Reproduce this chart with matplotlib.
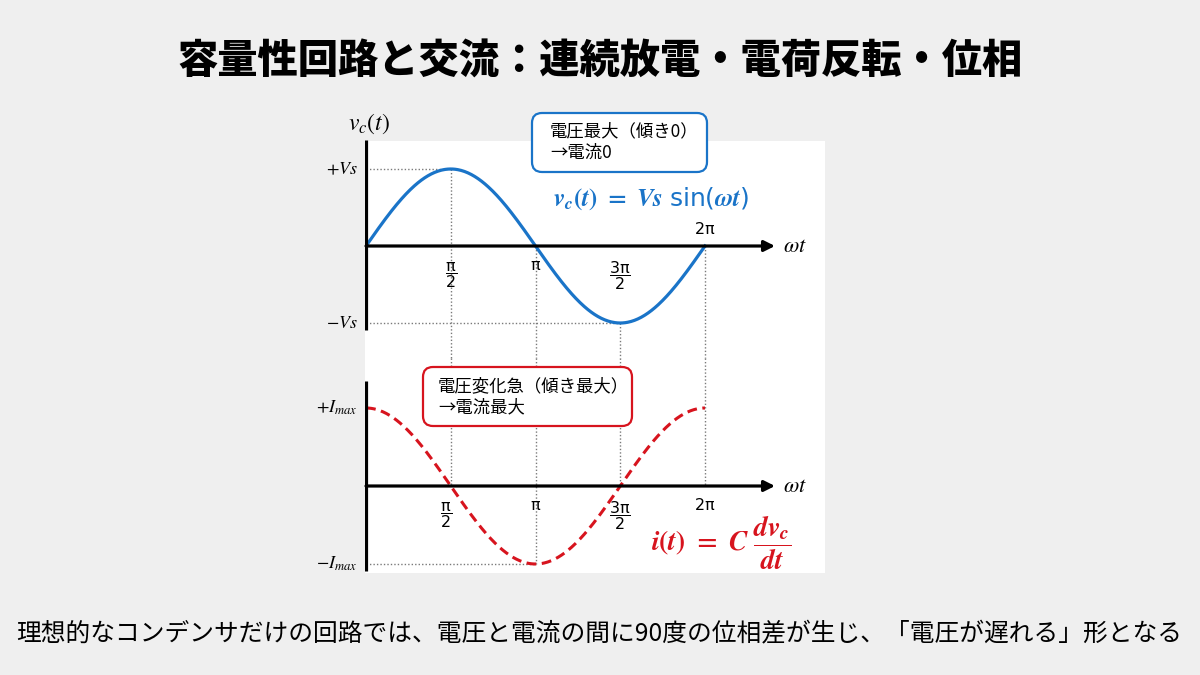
import numpy as np
import matplotlib
matplotlib.use("Agg")
import matplotlib.pyplot as plt
from matplotlib.patches import Rectangle, FancyBboxPatch

plt.rcParams['font.family'] = ['Noto Sans CJK JP', 'DejaVu Sans']
plt.rcParams['mathtext.fontset'] = 'custom'
plt.rcParams['mathtext.it'] = 'STIXGeneral:italic:bold'
plt.rcParams['mathtext.rm'] = 'STIXGeneral:bold'
plt.rcParams['mathtext.sf'] = 'DejaVu Sans'

# --- data ---
phase = np.linspace(0, 2 * np.pi, 400)
v_amp = 1.0          # Vs
i_amp = 1.0          # Imax
tick_pos = [np.pi / 2, np.pi, 3 * np.pi / 2, 2 * np.pi]
tick_labels = [r'$\dfrac{\mathrm{\pi}}{2}$', r'$\mathrm{\pi}$',
               r'$\dfrac{3\mathrm{\pi}}{2}$', r'$2\mathrm{\pi}$']
v_labels = [r'$+Vs$', r'$-Vs$']
i_labels = [r'$+I_{max}$', r'$-I_{max}$']

title = '容量性回路と交流：連続放電・電荷反転・位相'
caption = '理想的なコンデンサだけの回路では、電圧と電流の間に90度の位相差が生じ、「電圧が遅れる」形となる'
note_v = '電圧最大（傾き0）\n→電流0'
note_i = '電圧変化急（傾き最大）\n→電流最大'

BLUE = '#1a74c8'
RED = '#d7141e'
BG = '#efefef'
DOT = '#7a7a7a'

W, H = 1200, 675
fig = plt.figure(figsize=(W / 100, H / 100), dpi=100, facecolor=BG)


def fpos(x0, y0, x1, y1):
    # pixel box (top-left origin) -> figure fraction rect
    return [x0 / W, (H - y1) / H, (x1 - x0) / W, (y1 - y0) / H]


def inch(x, y):
    return x / 100, (H - y) / 100


# white panel (behind the axes)
fig.patches.append(Rectangle((365 / W, (H - 573) / H), 460 / W, 432 / H,
                             transform=fig.transFigure, facecolor='white',
                             edgecolor='none', zorder=-1))

s = (705 - 366) / (2 * np.pi)     # px per radian
xlim = ((365 - 366) / s, (825 - 366) / s)
x_end = (775 - 366) / s

ax1 = fig.add_axes(fpos(365, 140, 825, 358))
ax2 = fig.add_axes(fpos(365, 358, 825, 573))
ax1.set_ylim(-(358 - 246) / 77, (246 - 140) / 77)
ax2.set_ylim(-(573 - 486) / 78, (486 - 358) / 78)

for ax in (ax1, ax2):
    ax.set_xlim(*xlim)
    ax.axis('off')
    ax.patch.set_alpha(0)

dot = dict(color=DOT, lw=1.0, ls=(0, (1, 1.5)), zorder=1, clip_on=False)
arrow = dict(arrowstyle='-|>', color='black', lw=2.3, mutation_scale=16,
             shrinkA=0, shrinkB=0)
tick_kw = dict(textcoords='offset points', ha='center', va='center',
               fontsize=11.5, math_fontfamily='dejavusans')

# --- top panel: voltage ---
y0, y1 = ax1.get_ylim()
ax1.plot([0, tick_pos[0]], [v_amp, v_amp], **dot)
ax1.plot([0, tick_pos[2]], [-v_amp, -v_amp], **dot)
ax1.plot([tick_pos[0]] * 2, [v_amp, y0], **dot)
ax1.plot([tick_pos[1]] * 2, [0, y0], **dot)
ax1.plot([tick_pos[2]] * 2, [-v_amp, y0], **dot)
ax1.plot([tick_pos[3]] * 2, [0, y0], **dot)

ax1.plot(phase, v_amp * np.sin(phase), color=BLUE, lw=2.3, zorder=3)
ax1.plot([0, 0], [y1, -(330 - 246) / 77], color='black', lw=2.3, zorder=4,
         solid_capstyle='butt')
ax1.annotate('', xy=(x_end, 0), xytext=(0, 0), arrowprops=arrow, zorder=4)
ax1.annotate(r'$\omega t$', xy=(x_end, 0), xytext=(6, 0), textcoords='offset points',
             ha='left', va='center', fontsize=16, math_fontfamily='stix')

for lab, y in zip(v_labels, [v_amp, -v_amp]):
    ax1.annotate(lab, xy=(0, y), xytext=(-6, 0), textcoords='offset points',
                 ha='right', va='center', fontsize=13, math_fontfamily='stix')

for k, (p, lab) in enumerate(zip(tick_pos, tick_labels)):
    if k == 3:
        off = 12
    elif k == 1:
        off = -14
    else:
        off = -21
    ax1.annotate(lab, xy=(p, 0), xytext=(0, off), **tick_kw)

fig.text(369 / W, (H - 124) / H, r'$v_c(t)$', ha='center', va='center',
         fontsize=17, math_fontfamily='stix')

fig.text(651 / W, (H - 199) / H,
         r'$v_c(t)\ =\ Vs\ \mathsf{sin(}\omega t\mathsf{)}$',
         ha='center', va='center', fontsize=18, color=BLUE)

# --- bottom panel: current ---
z0, z1 = ax2.get_ylim()
ax2.plot([tick_pos[0]] * 2, [z1, 0], **dot)
ax2.plot([tick_pos[1]] * 2, [z1, -i_amp], **dot)
ax2.plot([tick_pos[2]] * 2, [z1, 0], **dot)
ax2.plot([tick_pos[3]] * 2, [z1, 0], **dot)
ax2.plot([0, tick_pos[1]], [-i_amp, -i_amp], **dot)

ax2.plot(phase, i_amp * np.cos(phase), color=RED, lw=2.2, ls=(0, (3.2, 1.8)), zorder=3)
ax2.plot([0, 0], [(486 - 381) / 78, -(571 - 486) / 78], color='black', lw=2.3,
         zorder=4, solid_capstyle='butt')
ax2.annotate('', xy=(x_end, 0), xytext=(0, 0), arrowprops=arrow, zorder=4)
ax2.annotate(r'$\omega t$', xy=(x_end, 0), xytext=(6, 0), textcoords='offset points',
             ha='left', va='center', fontsize=16, math_fontfamily='stix')

for lab, y in zip(i_labels, [i_amp, -i_amp]):
    ax2.annotate(lab, xy=(0, y), xytext=(-6, 0), textcoords='offset points',
                 ha='right', va='center', fontsize=13, math_fontfamily='stix')

for k, (p, lab) in enumerate(zip(tick_pos, tick_labels)):
    off = -21 if k in (0, 2) else -14
    dx = -3 if k == 0 else 0
    ax2.annotate(lab, xy=(p, 0), xytext=(dx, off), **tick_kw)

fig.text(721 / W, (H - 543) / H, r'$i(t)\ =\ C\;\dfrac{dv_c}{dt}$',
         ha='center', va='center', fontsize=20, color=RED)

# --- note boxes ---
for (bx0, by0, bx1, by1), col, txt, tx in [
        ((532, 113, 707, 172), BLUE, note_v, 550),
        ((423, 367, 632, 426), RED, note_i, 438)]:
    x, y = inch(bx0, by1)
    box = FancyBboxPatch((x, y), (bx1 - bx0) / 100, (by1 - by0) / 100,
                         boxstyle='round,pad=0,rounding_size=0.1',
                         transform=fig.dpi_scale_trans, facecolor='white',
                         edgecolor=col, lw=1.6, zorder=5)
    fig.patches.append(box)
    fig.text(tx / W, (H - (by0 + by1) / 2) / H, txt, ha='left', va='center',
             fontsize=12.5, linespacing=1.25, zorder=6)

# --- title / caption ---
fig.text(0.5, (H - 62) / H, title, ha='center', va='center', fontsize=29,
         fontweight='heavy')
fig.text(599 / W, (H - 634) / H, caption, ha='center', va='center', fontsize=17.8)

fig.savefig('out.png', dpi=100, facecolor=BG)
